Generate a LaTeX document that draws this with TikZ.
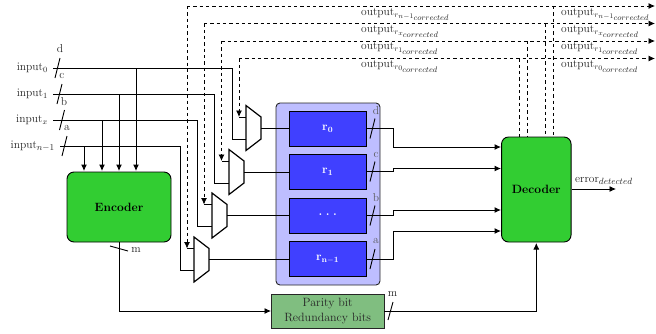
\documentclass[tikz,border=0pt]{standalone}
\usetikzlibrary{arrows.meta}
\definecolor{gbox}{HTML}{32CD32}
\definecolor{bbox}{HTML}{4040FF}
\definecolor{lbox}{HTML}{BEBEFF}
\definecolor{pbox}{HTML}{80BE80}
\newcommand{\sz}[2]{\mbox{\fontsize{#1}{#1}\selectfont$#2$}}
\tikzset{
  x=1pt,y=-1pt,
  every node/.style={font=\fontsize{11.5}{13}\selectfont,text=black!85,inner sep=0pt},
  big/.style={font=\fontsize{12}{15}\selectfont},
  letter/.style={font=\fontsize{11.5}{13}\selectfont},
  wire/.style={line width=.8pt,black},
  bus/.style={line width=1pt,black},
  arr/.style={-{Latex[length=6.5pt,width=6pt]}},
  fbv/.style={line width=.8pt,black,dash pattern=on 3.3pt off 3pt},
  slash/.style={line width=.9pt,black},
  muxshape/.style={line width=1.2pt,black,line join=miter},
  bigbox/.style={draw=black,line width=.9pt,fill=gbox,rounded corners=7pt,text=black,big},
  reg/.style={draw=black,line width=.9pt,fill=bbox,minimum width=77.5pt,minimum height=35pt,text=white,big},
  inp/.style={anchor=east,inner xsep=5pt},
}
\newcommand{\muxat}[3]{%
  \coordinate (#1-tl) at (#2,#3-22.5);
  \coordinate (#1-bl) at (#2,#3+22.5);
  \coordinate (#1-br) at (#2+15,#3+11);
  \coordinate (#1-tr) at (#2+15,#3-11);
  \coordinate (#1-a) at (#2,#3-11);
  \coordinate (#1-b) at (#2,#3+11);
  \coordinate (#1-o) at (#2+15,#3);
  \draw[muxshape] (#1-tl) -- (#1-tr) -- (#1-br) -- (#1-bl) -- cycle;
}
\newcommand{\outlab}[1]{output\raisebox{-1.8pt}{\sz{8}{r}}\raisebox{-3pt}{\sz{7}{#1}}\raisebox{-4.5pt}{\sz{8}{corrected}}}
\begin{document}
\begin{tikzpicture}
\useasboundingbox (0,0) rectangle (656,333);
% container and registers
\node[draw=black!85,line width=.9pt,fill=lbox,rounded corners=4pt,minimum width=104pt,minimum height=182pt] (bank) at (328,194) {};
\node[reg] (r0) at (327.7,128.5) {$\mathbf{r_0}$};
\node[reg] (r1) at (327.7,171.5) {$\mathbf{r_1}$};
\node[reg] (r2) at (327.7,215.5) {\raisebox{2.5pt}{\textbf{.\hspace{3.5pt}.\hspace{3.5pt}.}}};
\node[reg] (r3) at (327.7,259) {$\mathbf{r_{n-1}}$};
% blocks
\node[bigbox,minimum width=104pt,minimum height=70pt] (enc) at (119,207) {\textbf{Encoder}};
\node[bigbox,minimum width=69.5pt,minimum height=105pt] (dec) at (536.3,189.5) {\textbf{Decoder}};
\node[draw=black!85,line width=.9pt,fill=pbox,text=black!85,big,minimum width=112.5pt,minimum height=34pt,align=center] (par) at (327.7,311) {Parity bit\\Redundancy bits};
% multiplexers
\muxat{m0}{246}{128}
\muxat{m1}{229}{172}
\muxat{m2}{212}{215.5}
\muxat{m3}{194}{259.5}
% input labels
\node[inp] (i0) at (53,68) {input$_0$};
\node[inp] (i1) at (53,94) {input$_1$};
\node[inp] (i2) at (53,120) {input$_x$};
\node[inp] (i3) at (60,146) {input$_{\sz{9}{n{-}1}}$};
% input wires
\coordinate (e0) at (136,171);
\coordinate (e1) at (119,171);
\coordinate (e2) at (102,171);
\coordinate (e3) at (84,171);
\draw[bus,arr] (i0.east) -| (e0);
\draw[bus,arr] (i1.east) -| (e1);
\draw[bus,arr] (i2.east) -| (e2);
\draw[bus,arr] (i3.east) -| (e3);
\coordinate (c0) at (232,68);
\coordinate (c1) at (214,94);
\coordinate (c2) at (197,120);
\coordinate (c3) at (180,146);
\draw[wire] (i0.east) -- (c0) |- (m0-b);
\draw[wire] (i1.east) -- (c1) |- (m1-b);
\draw[wire] (i2.east) -- (c2) |- (m2-b);
\draw[wire] (i3.east) -- (c3) |- (m3-b);
% slashes on inputs
\draw[slash] (55,78) -- (60,58);
\draw[slash] (57,104) -- (62,84);
\draw[slash] (59.5,130) -- (64.5,110);
\draw[slash] (62,156) -- (67,136);
\node[letter] (ld) at (60,49) {d};
\node[letter] (lc) at (62,76) {c};
\node[letter] (lb) at (64,101.5) {b};
\node[letter] (la) at (67,127.5) {a};
% mux to registers
\draw[wire] (m0-o) -- (r0.west |- m0-o);
\draw[wire] (m1-o) -- (r1.west |- m1-o);
\draw[wire] (m2-o) -- (r2.west |- m2-o);
\draw[wire] (m3-o) -- (r3.west |- m3-o);
% registers to decoder
\coordinate (d0) at (501,147);
\coordinate (d1) at (501,168.5);
\coordinate (d2) at (501,210);
\coordinate (d3) at (501,231);
\draw[bus,arr] (r0.east |- 0,128.5) -- (393,128.5) |- (d0);
\draw[bus,arr] (r1.east |- 0,171.5) -- (393,171.5) |- (d1);
\draw[bus,arr] (r2.east |- 0,215.5) -- (393,215.5) |- (d2);
\draw[bus,arr] (r3.east |- 0,259) -- (393,259) |- (d3);
\draw[slash] (370,138.5) -- (375,118.5);
\draw[slash] (370,181.5) -- (375,161.5);
\draw[slash] (370,225.5) -- (375,205.5);
\draw[slash] (370,269) -- (375,249);
\node[letter,text=black!65] (rd) at (376,110.5) {d};
\node[letter,text=black!65] (rc) at (376,155) {c};
\node[letter,text=black!65] (rb) at (376,197.5) {b};
\node[letter,text=black!65] (ra) at (376,241) {a};
% feedback
\coordinate (o0) at (655,58.5);
\coordinate (o1) at (655,41);
\coordinate (o2) at (655,23.5);
\coordinate (o3) at (655,6);
\coordinate (t0) at (239,58.5);
\coordinate (t1) at (221.5,41);
\coordinate (t2) at (204,23.5);
\coordinate (t3) at (187,6);
\coordinate (f0) at (239,117);
\coordinate (f1) at (221.5,161);
\coordinate (f2) at (204,204.5);
\coordinate (f3) at (187,248.5);
\draw[wire] (m0-a) -- (f0);
\draw[wire] (m1-a) -- (f1);
\draw[wire] (m2-a) -- (f2);
\draw[wire] (m3-a) -- (f3);
\draw[fbv,arr] (t0) -- (o0);
\draw[fbv,arr] (t1) -- (o1);
\draw[fbv,arr] (t2) -- (o2);
\draw[fbv,arr] (t3) -- (o3);
\draw[fbv,arr] (t0) -- (f0);
\draw[fbv,arr] (t1) -- (f1);
\draw[fbv,arr] (t2) -- (f2);
\draw[fbv,arr] (t3) -- (f3);
\draw[fbv] (519,58.5) -- (dec.north -| 519,0);
\draw[fbv] (527.5,41) -- (dec.north -| 527.5,0);
\draw[fbv] (545,23.5) -- (dec.north -| 545,0);
\draw[fbv] (553.5,6) -- (dec.north -| 553.5,0);
% output labels
\node[anchor=west] (a3) at (361,14.5) {\outlab{n{-}1}};
\node[anchor=west] (a2) at (361,31.5) {\outlab{x}};
\node[anchor=west] (a1) at (361,48.5) {\outlab{1}};
\node[anchor=west] (a0) at (361,66.5) {\outlab{0}};
\node[anchor=west] (b3) at (561,14.5) {\outlab{n{-}1}};
\node[anchor=west] (b2) at (561,31.5) {\outlab{x}};
\node[anchor=west] (b1) at (561,48.5) {\outlab{1}};
\node[anchor=west] (b0) at (561,66.5) {\outlab{0}};
% error
\coordinate (errend) at (616,189);
\draw[wire,arr] (dec.east |- errend) -- (errend);
\node[anchor=west] (err) at (575,180.5) {error$_{\sz{9}{detected}}$};
% parity
\draw[wire,arr] (enc.south) |- (par.west);
\draw[slash] (110,246) -- (128,251);
\node[letter] (lm) at (136,250) {m};
\coordinate (up) at (536.3,243);
\draw[wire,arr] (par.east) -| (up);
\draw[slash] (388,320) -- (393,302);
\node[letter] (rm) at (392.5,293.5) {m};
\end{tikzpicture}
\end{document}
